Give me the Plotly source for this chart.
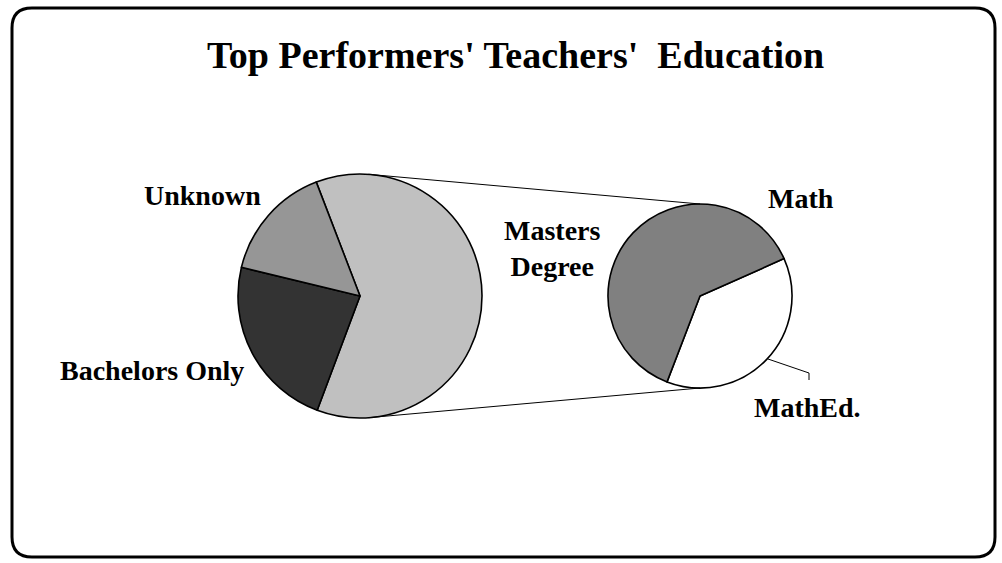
import math
import plotly.graph_objects as go

# Data (teacher counts)
main_labels = ["Masters Degree", "Bachelors Only", "Unknown"]
main_values = [8, 3, 2]
main_colors = ["#C0C0C0", "#333333", "#969696"]

sub_labels = ["MathEd.", "Math"]
sub_values = [3, 5]
sub_colors = ["#FFFFFF", "#808080"]

title_text = "Top Performers' Teachers'  Education"

W, H = 1002, 563
FONT = "Liberation Serif, Times New Roman, serif"

# pie geometry in pixels
main_c, main_r = (360, 296), 122
sub_c, sub_r = (700, 296), 92


def domain(c, r):
    return dict(
        x=[(c[0] - r) / W, (c[0] + r) / W],
        y=[(H - c[1] - r) / H, (H - c[1] + r) / H],
    )


fig = go.Figure()

fig.add_trace(
    go.Pie(
        labels=main_labels,
        values=main_values,
        marker=dict(colors=main_colors, line=dict(color="black", width=1.6)),
        sort=False,
        direction="clockwise",
        rotation=-21,
        textinfo="none",
        domain=domain(main_c, main_r),
        showlegend=False,
    )
)
fig.add_trace(
    go.Pie(
        labels=sub_labels,
        values=sub_values,
        marker=dict(colors=sub_colors, line=dict(color="black", width=1.6)),
        sort=False,
        direction="clockwise",
        rotation=66,
        textinfo="none",
        domain=domain(sub_c, sub_r),
        showlegend=False,
    )
)

# connector lines between the pies
def pt(c, r, ang):
    a = math.radians(ang)
    return c[0] + r * math.sin(a), c[1] - r * math.cos(a)

shapes = []
for a_main, a_sub in [(4, 0), (176, 180)]:
    x0, y0 = pt(main_c, main_r, a_main)
    x1, y1 = pt(sub_c, sub_r, a_sub)
    shapes.append(dict(type="line", x0=x0, y0=y0, x1=x1, y1=y1,
                       line=dict(color="black", width=1)))

# leader for MathEd.
shapes.append(dict(type="path", path="M 768 359 L 809 373 L 809 380",
                   line=dict(color="black", width=1)))

# rounded border
l, t, r_, b, rad = 12, 8, 995, 557, 20
border = (
    f"M {l+rad} {t} L {r_-rad} {t} Q {r_} {t} {r_} {t+rad} "
    f"L {r_} {b-rad} Q {r_} {b} {r_-rad} {b} "
    f"L {l+rad} {b} Q {l} {b} {l} {b-rad} "
    f"L {l} {t+rad} Q {l} {t} {l+rad} {t} Z"
)
shapes.append(dict(type="path", path=border, line=dict(color="black", width=3)))

# labels
label_text = {
    "Unknown": "Unknown",
    "Bachelors Only": "Bachelors Only",
    "Masters Degree": "Masters<br>Degree",
    "Math": "Math",
    "MathEd.": "MathEd.",
}
label_pos = {
    "Unknown": (202, 195),
    "Bachelors Only": (152, 370),
    "Masters Degree": (552, 248),
    "Math": (801, 198),
    "MathEd.": (807, 407),
}
annotations = []
for name in main_labels + sub_labels:
    x, y = label_pos[name]
    annotations.append(dict(
        x=x, y=y, xref="x", yref="y", text="<b>" + label_text[name] + "</b>",
        showarrow=False, font=dict(family=FONT, size=28, color="black"),
        xanchor="center", yanchor="middle",
    ))
annotations.append(dict(
    x=515, y=55, xref="x", yref="y", text="<b>" + title_text + "</b>",
    showarrow=False, font=dict(family=FONT, size=38, color="black"),
    xanchor="center", yanchor="middle",
))

fig.update_layout(
    width=W,
    height=H,
    margin=dict(l=0, r=0, t=0, b=0),
    paper_bgcolor="white",
    plot_bgcolor="rgba(0,0,0,0)",
    xaxis=dict(range=[0, W], visible=False, fixedrange=True),
    yaxis=dict(range=[H, 0], visible=False, fixedrange=True),
    shapes=shapes,
    annotations=annotations,
)

fig.write_html(
    "out.html",
    config=dict(displayModeBar=False),
    post_script="document.body.style.margin='0px';",
)
